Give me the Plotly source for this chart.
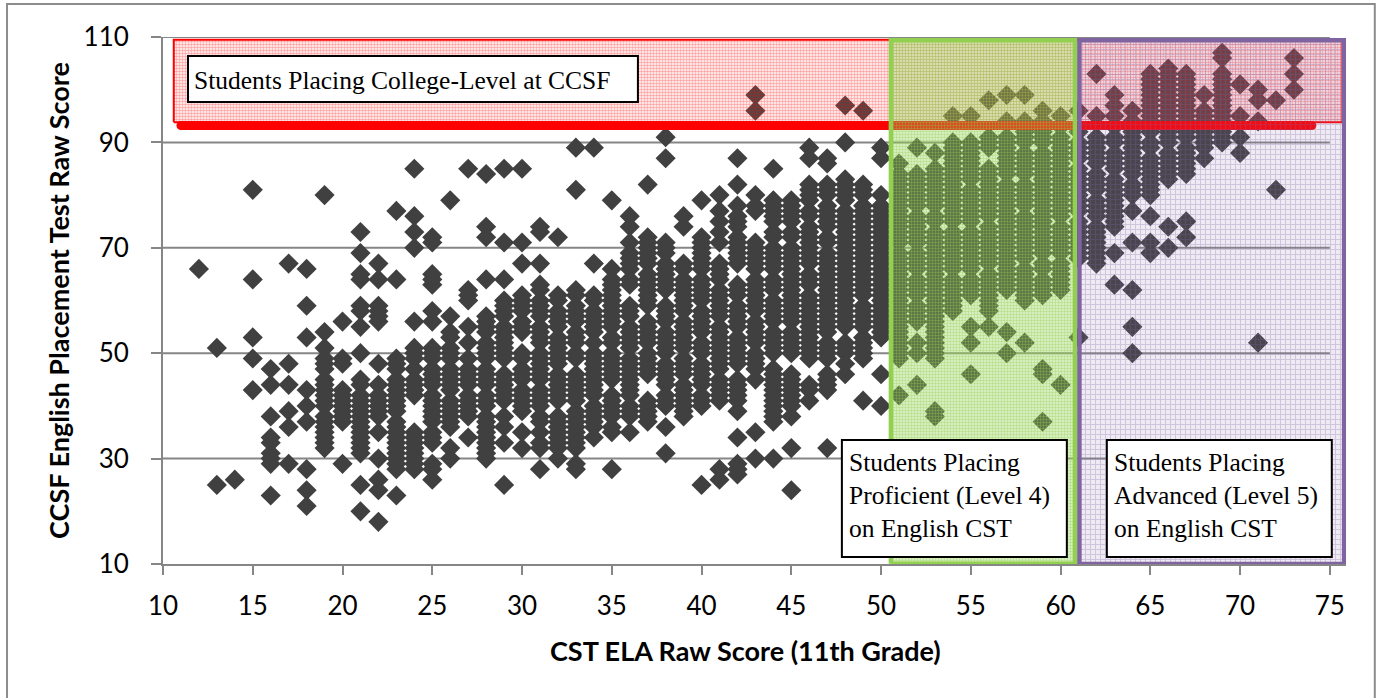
import plotly.graph_objects as go

# ---- data: one list of placement scores per CST score ----
cst_scores = list(range(12, 74))
placement_scores = [
 [66],
 [51,25],
 [26],
 [81,64,53,49,43],
 [47,44,38,34,33,31,30,29,23],
 [67,48,44,39,36,29],
 [66,59,53,43,40,37,28,24,21],
 [80,54,51,49,48,47,45,44,43,42,41,40,38,37,36,35,34,33,32],
 [56,49,48,43,42,41,40,39,38,37,29],
 [73,69,65,64,59,58,55,50,45,44,42,41,40,39,38,37,36,35,34,33,32,31,25,20],
 [67,64,59,58,57,56,48,44,42,41,40,39,38,35,30,26,24,18],
 [77,64,49,48,47,45,44,43,42,41,40,39,37,36,35,34,33,32,31,30,29,28,23],
 [85,76,73,70,56,51,50,49,47,45,44,43,42,35,34,33,32,31,30,29,28],
 [72,71,65,64,63,58,56,51,50,49,47,46,45,44,42,41,40,39,38,37,35,34,33,29,28,26],
 [79,57,54,53,51,50,49,47,46,45,44,43,41,40,39,38,37,36,32,30],
 [85,62,61,60,55,52,49,47,46,45,44,42,41,40,39,38,34],
 [84,74,72,64,57,56,55,54,52,51,50,49,47,46,45,44,42,41,40,38,37,36,35,34,33,32,31,30],
 [85,71,64,60,59,58,57,55,54,53,52,51,50,49,46,45,44,43,42,41,38,36,33,25],
 [85,71,67,61,60,59,58,56,55,54,50,49,47,46,45,43,42,41,40,39,35,32],
 [74,73,67,63,62,60,59,58,57,55,54,53,52,50,49,48,47,46,45,43,42,41,40,38,37,35,33,32,28],
 [72,61,60,58,57,56,55,53,52,51,50,49,48,46,45,44,43,42,41,38,37,36,35,34,33,32,30],
 [89,81,62,61,59,58,57,56,54,53,52,50,49,46,45,44,43,42,41,39,38,37,36,35,34,33,32,29,28],
 [89,67,61,60,58,57,56,55,54,52,50,49,48,47,46,45,44,43,42,40,39,38,37,36,34],
 [79,66,64,63,62,61,60,59,58,57,56,55,53,52,50,49,48,47,46,45,42,41,40,39,38,36,35,28],
 [76,74,71,69,68,67,66,64,63,59,58,57,55,54,53,52,51,49,48,47,46,45,44,43,42,40,39,38,35],
 [82,72,71,70,69,68,67,65,64,63,62,61,60,59,56,55,54,53,52,50,49,48,47,46,41,40,39,38,37],
 [91,87,71,70,69,67,66,65,64,63,62,59,58,57,56,54,53,52,51,50,48,47,46,45,44,42,41,40,36,31],
 [76,74,67,66,64,63,62,61,60,59,58,56,55,54,53,52,51,49,48,47,46,44,43,42,41,40,39,38],
 [79,72,71,70,69,68,67,66,64,63,62,61,60,58,57,56,55,54,52,51,50,48,47,46,45,44,42,41,40,25],
 [80,77,75,73,71,67,66,65,64,62,61,60,59,58,57,55,54,53,52,51,50,49,48,47,45,44,43,42,41,28,26],
 [87,82,78,76,75,74,72,71,70,69,68,67,63,62,61,59,58,57,56,55,53,52,51,50,49,48,45,44,43,42,41,39,34,29,28,27],
 [99,96,80,78,77,71,70,69,68,67,66,64,63,62,61,60,59,58,56,55,54,53,52,50,49,48,47,45,35,30],
 [85,79,78,77,76,75,73,72,70,69,68,67,66,64,63,62,60,59,58,57,56,54,53,52,51,50,47,46,45,44,43,42,41,40,39,38,37,30],
 [79,78,77,76,75,73,72,70,69,68,67,66,65,64,63,62,61,60,59,58,57,56,54,53,52,51,50,46,45,44,43,42,41,40,38,32,24],
 [89,87,82,81,80,79,77,76,74,73,72,71,70,69,68,67,65,64,63,61,60,59,58,57,56,55,54,53,52,51,50,49,44,43,41],
 [87,86,82,81,80,78,77,76,75,74,72,71,69,68,67,66,65,64,63,62,61,60,59,58,57,56,55,54,52,51,50,49,46,45,44,43,32],
 [97,90,83,82,81,80,79,77,76,75,74,73,72,71,70,69,68,67,66,65,64,63,62,61,60,59,58,57,56,55,52,51,50,48,46],
 [96,82,81,80,78,77,76,75,74,73,72,71,70,69,68,67,66,65,64,63,62,61,59,58,57,56,55,53,52,51,50,49,41],
 [89,87,80,78,77,76,75,74,73,72,71,70,69,68,67,66,65,64,63,62,61,60,59,58,57,56,55,54,53,46,40],
 [86,84,83,82,81,80,79,78,77,76,75,74,73,72,71,69,68,67,66,65,64,63,62,61,60,59,58,57,56,55,54,53,52,51,50,49,42],
 [89,84,83,82,81,80,79,78,76,75,74,73,72,71,69,68,67,66,64,63,62,61,59,58,57,56,52,50,44],
 [88,85,84,83,82,81,80,79,78,76,75,73,72,71,70,69,68,67,66,65,64,63,62,61,60,59,58,57,56,55,54,53,52,51,50,49,39,38],
 [95,90,89,88,87,86,85,84,83,82,81,80,79,78,77,76,75,73,72,71,70,69,68,67,66,64,63,62,61,60,59,58],
 [95,90,89,88,87,86,85,84,83,81,80,79,78,77,76,75,73,72,71,70,69,68,67,66,64,63,62,61,55,52,46],
 [98,91,90,89,85,84,83,82,81,80,79,78,77,76,74,73,72,71,70,69,68,67,65,64,63,62,61,60,59,58,55],
 [99,94,91,90,89,88,87,86,85,84,82,81,80,79,78,77,76,75,74,73,72,71,70,69,68,67,66,65,64,63,62,54,50],
 [99,94,92,91,90,88,87,86,85,84,82,81,80,79,78,76,75,74,73,72,71,70,69,68,66,65,64,63,62,61,60,52],
 [96,94,92,91,90,88,87,86,85,84,83,82,81,80,79,78,77,76,75,74,73,72,71,70,69,67,66,64,63,62,61,47,46,37],
 [95,93,91,90,89,88,87,86,85,84,83,82,81,80,79,78,77,76,74,73,72,71,70,69,67,66,65,64,63,62,44],
 [96,92,90,89,88,87,85,84,83,82,81,80,79,78,77,75,74,73,72,71,70,69,68,53],
 [103,95,91,90,89,88,87,86,84,83,82,81,79,78,77,76,74,73,72,71,70,69,68,67],
 [99,97,95,93,91,90,88,87,86,85,83,82,81,80,79,78,77,76,75,74,69,63],
 [96,94,92,91,90,89,88,87,86,85,84,82,81,80,77,71,62,55,50],
 [103,102,101,100,99,98,97,96,95,94,93,92,90,89,87,86,85,84,83,82,81,80,76,71,69],
 [104,103,102,101,100,99,98,97,96,95,94,93,92,91,90,88,87,86,85,84,83,74,70],
 [103,102,101,100,99,98,97,96,95,94,93,92,91,89,88,87,86,85,84,75,72],
 [99,96,95,94,93,92,91,90,89,87],
 [107,106,103,102,101,100,99,98,97,96,95,94,93,92,91,90],
 [101,95,91,88],
 [100,98,94,52],
 [98,81],
 [106,103,100],
]

cutoff_x = [11, 74]
cutoff_y = [93.2, 93.2]

college_x = [10.6, 75.7]
college_y = [93.8, 109.5]
proficient_x = [50.55, 60.8]
proficient_y = [10.04, 109.4]
advanced_x = [61.05, 75.8]
advanced_y = [10.0, 109.4]

x_ticks = [10,15,20,25,30,35,40,45,50,55,60,65,70,75]
y_ticks = [10,30,50,70,90,110]

x_title = "CST ELA Raw Score (11th Grade)"
y_title = "CCSF English Placement Test Raw Score"
college_label = "Students Placing College-Level at CCSF"
proficient_label = "Students Placing<br>Proficient (Level 4)<br>on English CST"
advanced_label = "Students Placing<br>Advanced (Level 5)<br>on English CST"

W, H = 1380, 698
L, R, T, B = 163, 1346.2, 37, 564
def px(v): return (v - L) / (R - L)
def py(v): return (B - v) / (B - T)

xs, ys = [], []
for c, col in zip(cst_scores, placement_scores):
    for v in col:
        xs.append(c); ys.append(v)

def region(xr, yr, line_color, line_w, shape, fg, bg, size, solidity):
    return go.Scatter(
        x=[xr[0], xr[1], xr[1], xr[0], xr[0]],
        y=[yr[0], yr[0], yr[1], yr[1], yr[0]],
        mode="lines", fill="toself", cliponaxis=False, hoverinfo="skip",
        line=dict(color=line_color, width=line_w),
        fillcolor="rgba(0,0,0,0)",
        fillpattern=dict(shape=shape, size=size, solidity=solidity, fgcolor=fg, bgcolor=bg, fillmode="replace"),
        showlegend=False)

fig = go.Figure()
fig.add_trace(go.Scatter(x=xs, y=ys, mode="markers", showlegend=False,
    marker=dict(symbol="diamond", size=15.5, color="#404040", line=dict(width=0))))
fig.add_trace(go.Scatter(x=cutoff_x, y=cutoff_y, mode="lines+markers", showlegend=False,
    line=dict(color="#ff0000", width=9), marker=dict(symbol="circle", size=9, color="#ff0000")))
fig.add_trace(region(college_x, college_y, "#ff0000", 2, ".", "rgba(255,0,0,0.36)", "rgba(255,255,255,0.05)", 3, 0.55))
fig.add_trace(region(proficient_x, proficient_y, "#92d050", 4.5, ".", "rgba(146,208,80,0.55)", "rgba(146,208,80,0.28)", 3, 0.5))
fig.add_trace(region(advanced_x, advanced_y, "#8064a2", 4.5, "+", "rgba(128,100,162,0.28)", "rgba(128,100,162,0.13)", 5, 0.4))

def box_shape(left, top, right, bottom):
    return dict(type="rect", xref="paper", yref="paper", x0=px(left), x1=px(right), y0=py(bottom), y1=py(top),
                line=dict(color="#000000", width=2), fillcolor="#ffffff", layer="above")

def box_text(text, left, top):
    return dict(text=text, xref="paper", yref="paper", x=px(left), y=py(top),
        xanchor="left", yanchor="top", align="left", showarrow=False, borderpad=0,
        font=dict(family="Liberation Serif", size=25.5, color="#000000"))

annotations = [
    box_text(college_label, 193, 65),
    box_text(proficient_label, 848, 447),
    box_text(advanced_label, 1113, 447),
    dict(text=x_title, xref="paper", yref="paper", x=px(746), y=py(650), xanchor="center", yanchor="middle",
         showarrow=False, font=dict(family="Lato", size=27, color="#000000", weight="bold")),
]

tick_font = dict(family="Lato", size=26, color="#000000")
title_font = dict(family="Lato", size=27, color="#000000", weight="bold")

shapes = [dict(type="rect", xref="paper", yref="paper", x0=px(7), x1=px(1375), y0=py(720), y1=py(4),
               line=dict(color="#8c8c8c", width=2), fillcolor="rgba(0,0,0,0)", layer="below")]
for v in y_ticks[1:]:
    shapes.append(dict(type="line", xref="x", yref="y", x0=x_ticks[0], x1=x_ticks[-1], y0=v, y1=v,
                       line=dict(color="#868686", width=2), layer="below"))
shapes += [box_shape(188, 56, 638, 102), box_shape(842, 440, 1067, 557), box_shape(1107, 440, 1332, 557)]

fig.update_layout(
    width=W, height=H, autosize=False,
    margin=dict(l=L, r=W-R, t=T, b=H-B, pad=0),
    plot_bgcolor="#ffffff", paper_bgcolor="#ffffff",
    showlegend=False, annotations=annotations, shapes=shapes,
    xaxis=dict(range=[10,75.9], tickmode="array", tickvals=x_ticks, ticktext=[str(v) for v in x_ticks],
        showgrid=False, zeroline=False, showline=True, linecolor="#868686", linewidth=2,
        ticks="outside", ticklen=9, tickwidth=2, tickcolor="#868686", tickfont=tick_font, ticklabelstandoff=9),
    yaxis=dict(range=[10,110], tickmode="array", tickvals=y_ticks, ticktext=[str(v) for v in y_ticks],
        showgrid=False, zeroline=False, showline=True,
        linecolor="#868686", linewidth=2,
        ticks="outside", ticklen=10, tickwidth=2, tickcolor="#868686", tickfont=tick_font, ticklabelstandoff=17,
        title=dict(text=y_title, font=title_font, standoff=6)),
)

fig.write_html("out.html", config=dict(displayModeBar=False),
               post_script="document.body.style.margin='0';document.body.style.overflow='hidden';")
